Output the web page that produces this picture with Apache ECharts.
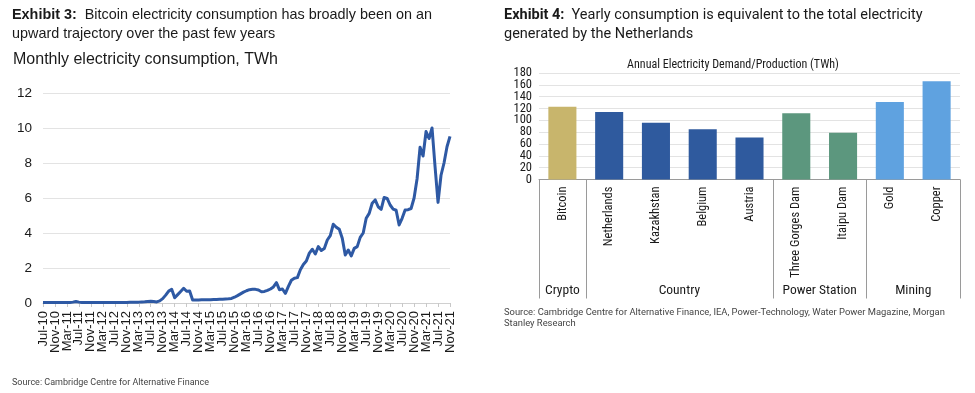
<!DOCTYPE html>
<html>
<head>
<meta charset="utf-8">
<script src="https://cdn.jsdelivr.net/npm/echarts@6/dist/echarts.min.js"></script>
<style>
html,body{margin:0;padding:0;background:#fff;}
#c{width:975px;height:393px;}
</style>
</head>
<body>
<div id="c"></div>
<script>
// ---------- Exhibit 3 data: monthly Bitcoin electricity consumption (TWh), Jul-10 .. Nov-21
const startYear = 2010, startMonth = 6; // July (0-based)
const monthNames = ['Jan','Feb','Mar','Apr','May','Jun','Jul','Aug','Sep','Oct','Nov','Dec'];
const consumption2010 = [0.03,0.03,0.03,0.03,0.03,0.03];
const consumption2011 = [0.03,0.03,0.03,0.03,0.05,0.09,0.05,0.03,0.03,0.03,0.03,0.03];
const consumption2012 = [0.03,0.03,0.03,0.03,0.03,0.03,0.03,0.03,0.03,0.03,0.03,0.04];
const consumption2013 = [0.04,0.05,0.05,0.06,0.07,0.09,0.10,0.08,0.06,0.12,0.25,0.45];
const consumption2014 = [0.68,0.78,0.30,0.48,0.66,0.84,0.67,0.68,0.17,0.17,0.17,0.18];
const consumption2015 = [0.18,0.18,0.19,0.20,0.20,0.21,0.22,0.23,0.24,0.26,0.33,0.42];
const consumption2016 = [0.52,0.62,0.70,0.76,0.78,0.78,0.74,0.64,0.66,0.72,0.80,0.92];
const consumption2017 = [1.16,0.76,0.80,0.55,0.95,1.30,1.42,1.45,1.90,2.20,2.40,2.85];
const consumption2018 = [3.07,2.80,3.22,3.00,3.12,3.60,3.85,4.50,4.33,4.21,3.70,2.74];
const consumption2019 = [3.03,2.69,3.12,3.22,3.75,4.00,4.84,5.12,5.70,5.89,5.50,5.35];
const consumption2020 = [6.03,5.98,5.60,5.37,5.30,4.46,4.84,5.31,5.33,5.40,6.00,7.10];
const consumption2021 = [8.90,8.40,9.80,9.40,10.00,7.80,5.75,7.30,8.00,8.93,9.52];
const consumption = [].concat(consumption2010, consumption2011, consumption2012, consumption2013,
  consumption2014, consumption2015, consumption2016, consumption2017, consumption2018,
  consumption2019, consumption2020, consumption2021);
const monthLabels = consumption.map((v, i) => {
  const m = startMonth + i;
  const y = startYear + Math.floor(m / 12);
  return monthNames[m % 12] + '-' + String(y % 100).padStart(2, '0');
});
const leftYTicks = [0, 2, 4, 6, 8, 10, 12];

// ---------- Exhibit 4 data: annual electricity demand / production (TWh)
const entities = ['Bitcoin','Netherlands','Kazakhstan','Belgium','Austria','Three Gorges Dam','Itaipu Dam','Gold','Copper'];
const annualTWh = [123, 114, 96, 85, 71, 112, 79, 131, 166];
const groupNames = ['Crypto','Country','Power Station','Mining'];
const groupSizes = [1, 4, 2, 2];
const rightYTicks = [0,20,40,60,80,100,120,140,160,180];

// ---------- styles
const groupColors = ['#C8B56C', '#2F5A9E', '#5C977E', '#5FA2E0'];
const lineColor = '#2E59A4';
const condensed = "'Liberation Sans Narrow','Roboto Condensed','DejaVu Sans Condensed',Roboto,sans-serif";
const arial = "'Liberation Sans',Arial,sans-serif";

// derived positions for group separators & labels (in category units)
const groupBounds = [0];
groupSizes.forEach(s => groupBounds.push(groupBounds[groupBounds.length - 1] + s));
const groupCenters = groupSizes.map((s, i) => groupBounds[i] + s / 2);
const entityGroup = [];
groupSizes.forEach((s, gi) => { for (let k = 0; k < s; k++) entityGroup.push(gi); });
// tick labels split into two alternating sets (avoids automatic overlap hiding)
const rightYEven = rightYTicks.filter((v, i) => i % 2 === 0);
const rightYOdd = rightYTicks.filter((v, i) => i % 2 === 1);

const monthLabelStyle = { rotate: 90, margin: 8, fontFamily: arial, fontSize: 13, color: '#1a1a1a' };
const rightYLabelStyle = { margin: 7, fontFamily: condensed, fontSize: 12.5, color: '#1a1a1a' };

const chart = echarts.init(document.getElementById('c'), null, {renderer: 'canvas'});
chart.setOption({
  animation: false,
  backgroundColor: '#fff',
  title: [
    {
      left: 12, top: 6, padding: 0,
      text: '{b|Exhibit 3:}  Bitcoin electricity consumption has broadly been on an\nupward trajectory over the past few years',
      textStyle: {
        fontFamily: arial, fontSize: 14.4, fontWeight: 'normal', color: '#1a1a1a', lineHeight: 19,
        rich: { b: { fontFamily: arial, fontSize: 14.4, fontWeight: 'bold', color: '#1a1a1a', lineHeight: 19 } }
      }
    },
    {
      left: 13, top: 52, padding: 0,
      text: 'Monthly electricity consumption, TWh',
      textStyle: { fontFamily: arial, fontSize: 16, fontWeight: 'normal', color: '#1a1a1a' }
    },
    {
      left: 12, top: 378, padding: 0,
      text: 'Source: Cambridge Centre for Alternative Finance',
      textStyle: { fontFamily: "Roboto,sans-serif", fontSize: 9, fontWeight: 'normal', color: '#444' }
    },
    {
      left: 504, top: 6, padding: 0,
      text: '{b|Exhibit 4:}  Yearly consumption is equivalent to the total electricity\ngenerated by the Netherlands',
      textStyle: {
        fontFamily: "Roboto,sans-serif", fontSize: 14.5, fontWeight: 'normal', color: '#1a1a1a', lineHeight: 19,
        rich: { b: { fontFamily: "Roboto,sans-serif", fontSize: 14.5, fontWeight: 'bold', color: '#1a1a1a', lineHeight: 19 } }
      }
    },
    {
      left: 733, top: 59, padding: 0, textAlign: 'center',
      text: 'Annual Electricity Demand/Production (TWh)',
      textStyle: { fontFamily: condensed, fontSize: 12, fontWeight: 'normal', color: '#1a1a1a' }
    },
    {
      left: 504, top: 307, padding: 0,
      text: 'Source: Cambridge Centre for Alternative Finance, IEA, Power-Technology, Water Power Magazine, Morgan\nStanley Research',
      textStyle: { fontFamily: "Roboto,sans-serif", fontSize: 9.4, fontWeight: 'normal', color: '#444', lineHeight: 11 }
    }
  ],
  grid: [
    { left: 43, right: 525, top: 93, bottom: 90, containLabel: false },
    { left: 539, right: 15, top: 73, bottom: 213.5, containLabel: false }
  ],
  xAxis: [
    { // 0: months, draws axis line, ticks and every other label
      type: 'category', gridIndex: 0, data: monthLabels, boundaryGap: false,
      axisLine: { lineStyle: { color: '#d0d0d0', width: 1 } },
      axisTick: { show: true, interval: 3, length: 4, lineStyle: { color: '#c8c8c8' } },
      axisLabel: Object.assign({ interval: (i) => i % 8 === 0 }, monthLabelStyle),
      splitLine: { show: false }
    },
    { // 1: months, the other half of the labels
      type: 'category', gridIndex: 0, data: monthLabels, boundaryGap: false, position: 'bottom',
      axisLine: { show: false }, axisTick: { show: false },
      axisLabel: Object.assign({ interval: (i) => i % 8 === 4 }, monthLabelStyle),
      splitLine: { show: false }
    },
    { // 2: entities
      type: 'category', gridIndex: 1, data: entities, boundaryGap: true,
      axisLine: { lineStyle: { color: '#9a9a9a', width: 1 } },
      axisTick: { show: false },
      axisLabel: { interval: 0, rotate: 90, margin: 7, fontFamily: condensed, fontSize: 12.5, color: '#1a1a1a' },
      splitLine: { show: false }
    },
    { // 3: group separators and group labels
      type: 'value', gridIndex: 1, min: 0, max: entities.length, position: 'bottom',
      axisLine: { show: false },
      axisTick: { show: true, customValues: groupBounds, length: 119, lineStyle: { color: '#9a9a9a', width: 1 } },
      axisLabel: {
        show: true, customValues: groupCenters, margin: 104,
        fontFamily: condensed, fontSize: 13.5, color: '#1a1a1a',
        formatter: v => { const i = groupCenters.indexOf(v); return i >= 0 ? groupNames[i] : ''; }
      },
      splitLine: { show: false }
    }
  ],
  yAxis: [
    {
      type: 'value', gridIndex: 0, min: leftYTicks[0], max: leftYTicks[leftYTicks.length - 1], interval: 2,
      axisLine: { show: false }, axisTick: { show: false },
      axisLabel: { margin: 11, fontFamily: arial, fontSize: 13.5, color: '#1a1a1a' },
      splitLine: { lineStyle: { color: '#e3e3e3', width: 1 } }
    },
    {
      type: 'value', gridIndex: 1, min: rightYTicks[0], max: rightYTicks[rightYTicks.length - 1], interval: 20,
      axisLine: { show: false }, axisTick: { show: false },
      axisLabel: Object.assign({ customValues: rightYEven }, rightYLabelStyle),
      splitLine: { lineStyle: { color: '#e3e3e3', width: 1 } }
    },
    {
      type: 'value', gridIndex: 1, min: rightYTicks[0], max: rightYTicks[rightYTicks.length - 1], interval: 20,
      position: 'left', offset: 0,
      axisLine: { show: false }, axisTick: { show: false },
      axisLabel: Object.assign({ customValues: rightYOdd }, rightYLabelStyle),
      splitLine: { show: false }
    }
  ],
  series: [
    {
      type: 'line', xAxisIndex: 0, yAxisIndex: 0, data: consumption,
      showSymbol: false, symbol: 'none', smooth: false,
      lineStyle: { color: lineColor, width: 3, join: 'round' }
    },
    {
      type: 'bar', xAxisIndex: 2, yAxisIndex: 1, barWidth: '60%',
      data: annualTWh.map((v, i) => ({ value: v, itemStyle: { color: groupColors[entityGroup[i]] } }))
    }
  ]
});
</script>
</body>
</html>
